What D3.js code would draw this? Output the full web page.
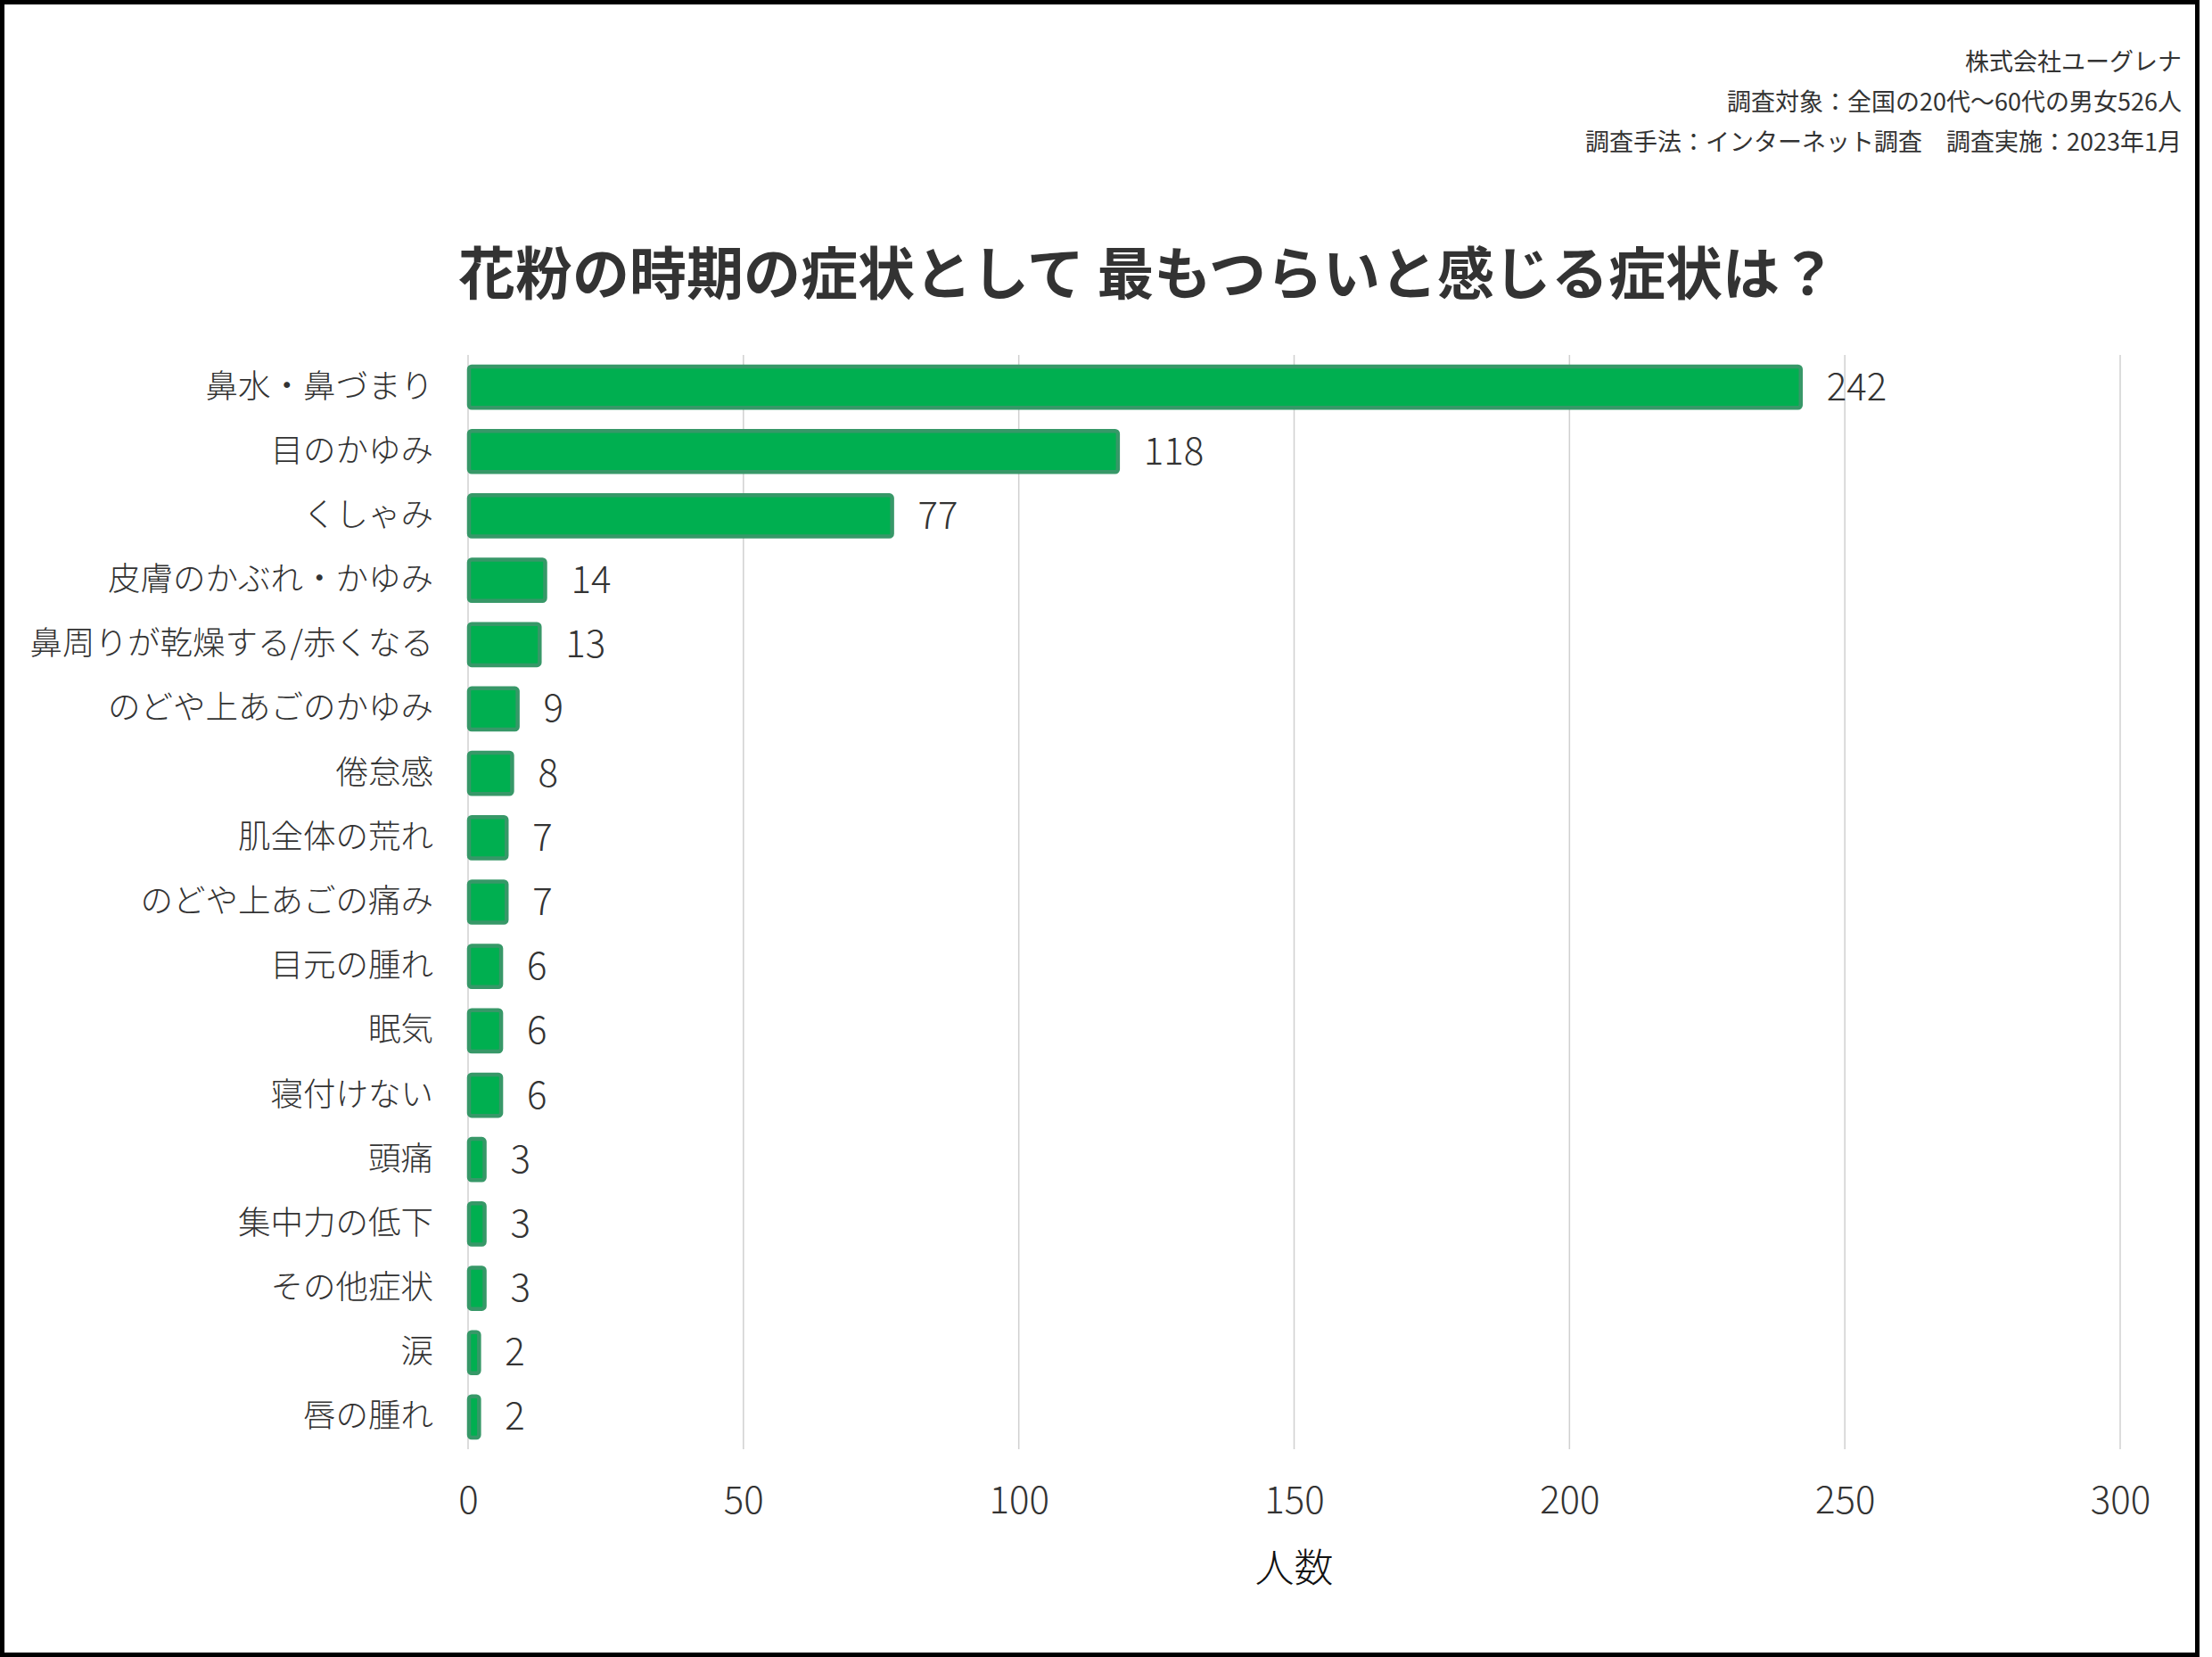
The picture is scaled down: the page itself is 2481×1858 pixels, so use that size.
<!DOCTYPE html>
<html>
<head>
<meta charset="utf-8">
<script src="https://cdn.jsdelivr.net/npm/d3@7"></script>
<style>
  html, body { margin: 0; padding: 0; background: #fff; }
  svg { display: block; }
  text { font-family: "Noto Sans CJK JP", "Noto Sans", sans-serif; }
</style>
</head>
<body>
<script>
const categories = ["鼻水・鼻づまり", "目のかゆみ", "くしゃみ", "皮膚のかぶれ・かゆみ", "鼻周りが乾燥する/赤くなる", "のどや上あごのかゆみ", "倦怠感", "肌全体の荒れ", "のどや上あごの痛み", "目元の腫れ", "眠気", "寝付けない", "頭痛", "集中力の低下", "その他症状", "涙", "唇の腫れ"];
const values = [242, 118, 77, 14, 13, 9, 8, 7, 7, 6, 6, 6, 3, 3, 3, 2, 2];
const xTicks = [0, 50, 100, 150, 200, 250, 300];
const title = "花粉の時期の症状として 最もつらいと感じる症状は？";
const notes = ["株式会社ユーグレナ", "調査対象：全国の20代～60代の男女526人", "調査手法：インターネット調査　調査実施：2023年1月"];
const xTitle = "人数";

const W = 2481, H = 1858;
const svg = d3.select("body").append("svg").attr("width", W).attr("height", H);

svg.append("rect").attr("x", 0).attr("y", 0).attr("width", W).attr("height", H).attr("fill", "#fff");
svg.append("rect").attr("x", 2.5).attr("y", 2.5).attr("width", 2462).attr("height", 1853)
  .attr("fill", "none").attr("stroke", "#000").attr("stroke-width", 5);

const x = d3.scaleLinear().domain([0, 300]).range([525, 2378]);
const y = d3.scaleBand().domain(categories).range([398, 1625]).paddingInner(0.36).paddingOuter(0.18);

// notes
svg.selectAll("text.note").data(notes).enter().append("text")
  .attr("class", "note")
  .attr("x", 2447).attr("y", (d, i) => 67 + i * 45)
  .attr("text-anchor", "end").attr("dominant-baseline", "central")
  .attr("font-size", 27).attr("fill", "#333")
  .text(d => d);

// title
svg.append("text").attr("x", 1287).attr("y", 302)
  .attr("text-anchor", "middle").attr("dominant-baseline", "central")
  .attr("font-size", 64).attr("font-weight", 700).attr("fill", "#333")
  .text(title);

// gridlines
svg.append("g").selectAll("line").data(xTicks).enter().append("line")
  .attr("x1", d => x(d)).attr("x2", d => x(d))
  .attr("y1", 398).attr("y2", 1625)
  .attr("stroke", "#d0d0d0").attr("stroke-width", 1.5);

// x axis labels
const xAxis = d3.axisBottom(x).tickValues(xTicks).tickSize(0).tickPadding(0);
const gx = svg.append("g").attr("transform", "translate(0,1678)").call(xAxis);
gx.select(".domain").remove();
gx.selectAll("text").attr("font-size", 42).attr("fill", "#333")
  .attr("dy", null).attr("y", 0).attr("dominant-baseline", "central")
  .style("font-family", "\"Noto Sans CJK JP\", sans-serif").style("font-weight", 300);

// y axis labels
const yAxis = d3.axisLeft(y).tickSize(0).tickPadding(0);
const gy = svg.append("g").attr("transform", "translate(486,-4)").call(yAxis);
gy.select(".domain").remove();
gy.selectAll("text").attr("font-size", 36.5).attr("fill", "#333")
  .attr("dy", null).attr("x", 0).attr("dominant-baseline", "central")
  .style("font-family", "\"Noto Sans CJK JP\", sans-serif").style("font-weight", 300);

// bars
const data = categories.map((c, i) => ({ c, v: values[i] }));
svg.append("g").selectAll("rect").data(data).enter().append("rect")
  .attr("x", x(0) + 1)
  .attr("y", d => y(d.c))
  .attr("width", d => x(d.v) - x(0) - 1)
  .attr("height", y.bandwidth())
  .attr("rx", 3).attr("ry", 3)
  .attr("fill", "#00AF50")
  .attr("stroke", "#379868")
  .attr("stroke-width", 4.5);

// value labels
svg.append("g").selectAll("text").data(data).enter().append("text")
  .attr("x", d => x(d.v) + 29)
  .attr("y", d => y(d.c) + y.bandwidth() / 2 - 4)
  .attr("dominant-baseline", "central")
  .attr("font-size", 42).attr("font-weight", 300).attr("fill", "#333")
  .text(d => d.v);

// axis title
svg.append("text").attr("x", (x(0) + x(300)) / 2).attr("y", 1755)
  .attr("text-anchor", "middle").attr("dominant-baseline", "central")
  .attr("font-size", 44).attr("fill", "#111").attr("font-weight", 300)
  .text(xTitle);
</script>
</body>
</html>
